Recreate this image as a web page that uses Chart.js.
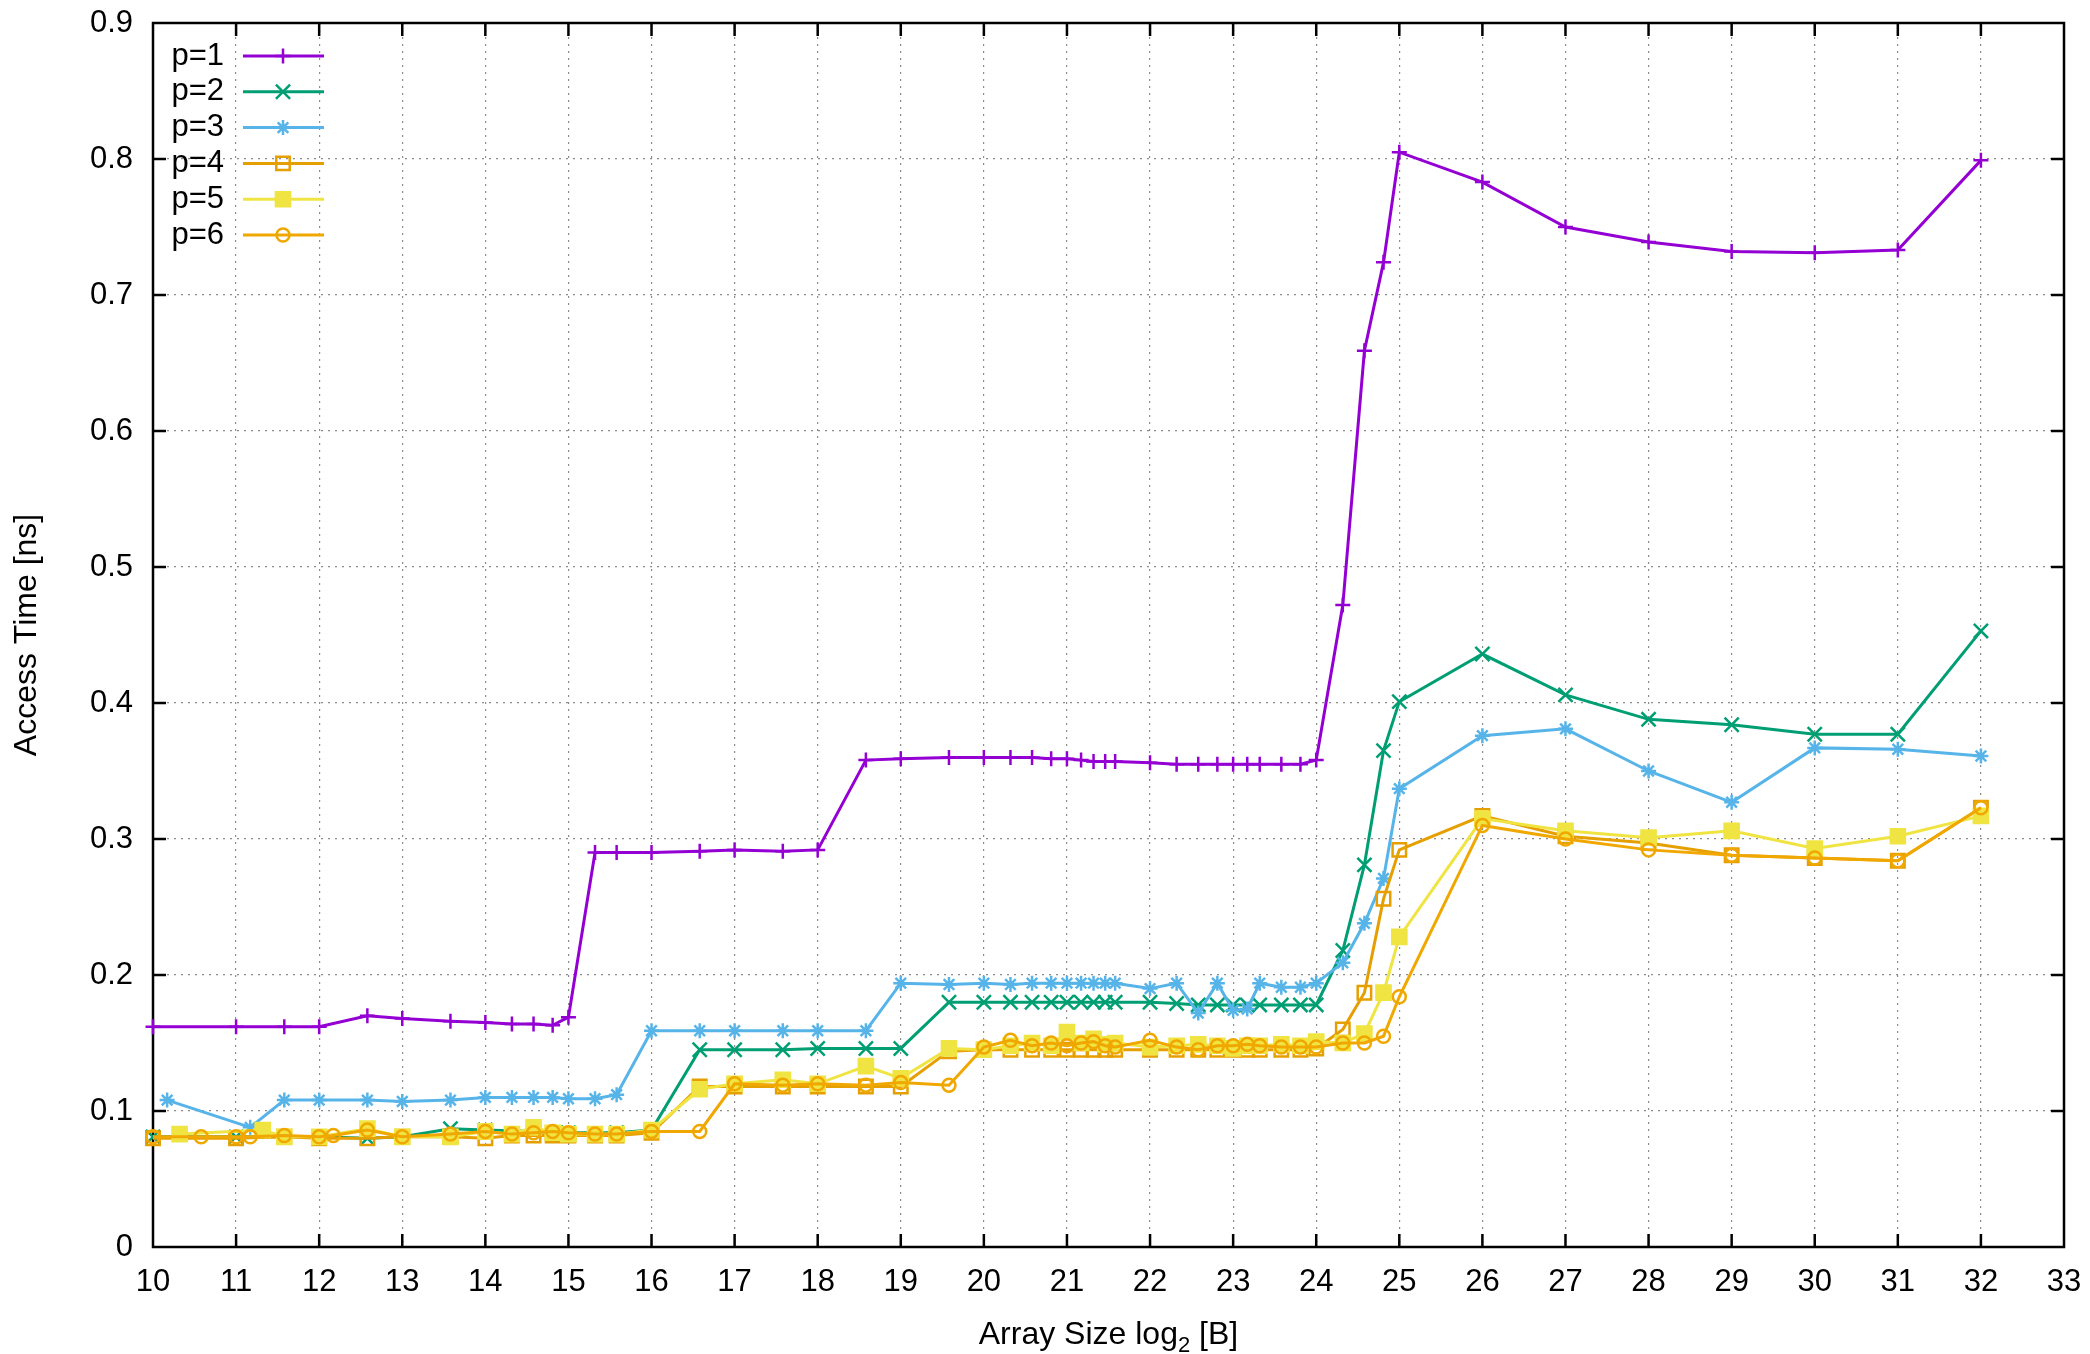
<!DOCTYPE html>
<html>
<head>
<meta charset="utf-8">
<script src="https://cdn.jsdelivr.net/npm/chart.js@4.4.1/dist/chart.umd.min.js"></script>
<style>
	html, body { margin: 0; padding: 0; background: #fff; }
</style>
</head>
<body>
<canvas id="accessChart" width="2090" height="1354"></canvas>
<script>
const xTicks = [10, 11, 12, 13, 14, 15, 16, 17, 18, 19, 20, 21, 22, 23, 24, 25, 26, 27, 28, 29, 30, 31, 32, 33];
const yTicks = [0, 0.1, 0.2, 0.3, 0.4, 0.5, 0.6, 0.7, 0.8, 0.9];
const yTickLabels = ["0", "0.1", "0.2", "0.3", "0.4", "0.5", "0.6", "0.7", "0.8", "0.9"];
const seriesNames = ["p=1", "p=2", "p=3", "p=4", "p=5", "p=6"];

// x = log2 of array size, y = access time in ns
const p1X = [10, 11, 11.58, 12, 12.58, 13, 13.58, 14, 14.32, 14.58, 14.81, 15, 15.32, 15.58, 16, 16.58, 17, 17.58, 18, 18.58, 19, 19.58, 20, 20.32, 20.58, 20.81, 21, 21.17, 21.32, 21.46, 21.58, 22, 22.32, 22.58, 22.81, 23, 23.17, 23.32, 23.58, 23.81, 24, 24.32, 24.58, 24.81, 25, 26, 27, 28, 29, 30, 31, 32];
const p1Y = [0.162, 0.162, 0.162, 0.162, 0.170, 0.168, 0.166, 0.165, 0.164, 0.164, 0.163, 0.169, 0.290, 0.290, 0.290, 0.291, 0.292, 0.291, 0.292, 0.358, 0.359, 0.360, 0.360, 0.360, 0.360, 0.359, 0.359, 0.358, 0.357, 0.357, 0.357, 0.356, 0.355, 0.355, 0.355, 0.355, 0.355, 0.355, 0.355, 0.355, 0.358, 0.472, 0.659, 0.724, 0.805, 0.783, 0.750, 0.739, 0.732, 0.731, 0.733, 0.799];

const p2X = [10, 11, 12, 12.58, 13, 13.58, 14, 14.58, 15, 15.58, 16, 16.58, 17, 17.58, 18, 18.58, 19, 19.58, 20, 20.32, 20.58, 20.81, 21, 21.17, 21.32, 21.46, 21.58, 22, 22.32, 22.58, 22.81, 23, 23.17, 23.32, 23.58, 23.81, 24, 24.32, 24.58, 24.81, 25, 26, 27, 28, 29, 30, 31, 32];
const p2Y = [0.081, 0.081, 0.081, 0.080, 0.081, 0.087, 0.086, 0.085, 0.084, 0.084, 0.086, 0.145, 0.145, 0.145, 0.146, 0.146, 0.146, 0.180, 0.180, 0.180, 0.180, 0.180, 0.180, 0.180, 0.180, 0.180, 0.180, 0.180, 0.179, 0.178, 0.178, 0.178, 0.178, 0.178, 0.178, 0.178, 0.178, 0.218, 0.281, 0.365, 0.401, 0.436, 0.406, 0.388, 0.384, 0.377, 0.377, 0.453];

const p3X = [10.17, 11.17, 11.58, 12, 12.58, 13, 13.58, 14, 14.32, 14.58, 14.81, 15, 15.32, 15.58, 16, 16.58, 17, 17.58, 18, 18.58, 19, 19.58, 20, 20.32, 20.58, 20.81, 21, 21.17, 21.32, 21.46, 21.58, 22, 22.32, 22.58, 22.81, 23, 23.17, 23.32, 23.58, 23.81, 24, 24.32, 24.58, 24.81, 25, 26, 27, 28, 29, 30, 31, 32];
const p3Y = [0.108, 0.088, 0.108, 0.108, 0.108, 0.107, 0.108, 0.110, 0.110, 0.110, 0.110, 0.109, 0.109, 0.112, 0.159, 0.159, 0.159, 0.159, 0.159, 0.159, 0.194, 0.193, 0.194, 0.193, 0.194, 0.194, 0.194, 0.194, 0.194, 0.194, 0.194, 0.190, 0.194, 0.172, 0.194, 0.174, 0.175, 0.194, 0.191, 0.191, 0.194, 0.209, 0.238, 0.271, 0.337, 0.376, 0.381, 0.350, 0.327, 0.367, 0.366, 0.361];

const p4X = [10, 11, 11.58, 12, 12.58, 13, 13.58, 14, 14.32, 14.58, 14.81, 15, 15.32, 15.58, 16, 16.58, 17, 17.58, 18, 18.58, 19, 19.58, 20, 20.32, 20.58, 20.81, 21, 21.17, 21.32, 21.46, 21.58, 22, 22.32, 22.58, 22.81, 23, 23.17, 23.32, 23.58, 23.81, 24, 24.32, 24.58, 24.81, 25, 26, 27, 28, 29, 30, 31, 32];
const p4Y = [0.080, 0.080, 0.081, 0.080, 0.080, 0.081, 0.081, 0.080, 0.082, 0.082, 0.082, 0.082, 0.082, 0.082, 0.084, 0.118, 0.118, 0.118, 0.118, 0.118, 0.118, 0.144, 0.145, 0.145, 0.145, 0.145, 0.145, 0.145, 0.145, 0.145, 0.145, 0.145, 0.145, 0.145, 0.145, 0.145, 0.145, 0.145, 0.145, 0.145, 0.146, 0.160, 0.187, 0.256, 0.292, 0.317, 0.302, 0.297, 0.288, 0.286, 0.284, 0.323];

const p5X = [10.32, 11.32, 11.58, 12, 12.58, 13, 13.58, 14, 14.32, 14.58, 14.81, 15, 15.32, 15.58, 16, 16.58, 17, 17.58, 18, 18.58, 19, 19.58, 20, 20.32, 20.58, 20.81, 21, 21.17, 21.32, 21.46, 21.58, 22, 22.32, 22.58, 22.81, 23, 23.17, 23.32, 23.58, 23.81, 24, 24.32, 24.58, 24.81, 25, 26, 27, 28, 29, 30, 31, 32];
const p5Y = [0.083, 0.086, 0.081, 0.081, 0.087, 0.081, 0.081, 0.085, 0.083, 0.088, 0.084, 0.083, 0.083, 0.083, 0.086, 0.116, 0.120, 0.123, 0.120, 0.133, 0.124, 0.146, 0.145, 0.148, 0.150, 0.148, 0.158, 0.150, 0.153, 0.149, 0.150, 0.147, 0.148, 0.149, 0.148, 0.146, 0.148, 0.148, 0.149, 0.148, 0.151, 0.150, 0.157, 0.187, 0.228, 0.315, 0.306, 0.301, 0.306, 0.293, 0.302, 0.317];

const p6X = [10, 10.58, 11, 11.17, 11.58, 12, 12.17, 12.58, 13, 13.58, 14, 14.32, 14.58, 14.81, 15, 15.32, 15.58, 16, 16.58, 17, 17.58, 18, 18.58, 19, 19.58, 20, 20.32, 20.58, 20.81, 21, 21.17, 21.32, 21.46, 21.58, 22, 22.32, 22.58, 22.81, 23, 23.17, 23.32, 23.58, 23.81, 24, 24.32, 24.58, 24.81, 25, 26, 27, 28, 29, 30, 31, 32];
const p6Y = [0.081, 0.081, 0.081, 0.081, 0.082, 0.081, 0.082, 0.086, 0.081, 0.083, 0.085, 0.083, 0.084, 0.085, 0.084, 0.083, 0.083, 0.085, 0.085, 0.120, 0.119, 0.120, 0.119, 0.121, 0.119, 0.147, 0.152, 0.148, 0.150, 0.148, 0.150, 0.151, 0.148, 0.147, 0.152, 0.147, 0.145, 0.148, 0.148, 0.149, 0.148, 0.147, 0.147, 0.147, 0.150, 0.150, 0.155, 0.184, 0.310, 0.300, 0.292, 0.288, 0.286, 0.284, 0.323];

const seriesX = [p1X, p2X, p3X, p4X, p5X, p6X];
const seriesY = [p1Y, p2Y, p3Y, p4Y, p5Y, p6Y];

const colors = ["#9400d3", "#009e73", "#56b4e9", "#e69f00", "#f0e442", "#f0a800"];
const markers = [
	{ style: "cross", radius: 7.5, filled: false },
	{ style: "crossRot", radius: 10, filled: false },
	{ style: "star", radius: 7.5, filled: false },
	{ style: "rect", radius: 9.5, filled: false },
	{ style: "rect", radius: 10, filled: true },
	{ style: "circle", radius: 6.5, filled: false },
];

const FONT = "'Liberation Sans', Arial, sans-serif";
Chart.defaults.font.family = FONT;
Chart.defaults.font.size = 31;
Chart.defaults.color = "#000";

const datasets = seriesNames.map((name, i) => ({
	label: name,
	data: seriesX[i].map((x, j) => ({ x: x, y: seriesY[i][j] })),
	borderColor: colors[i],
	backgroundColor: colors[i],
	borderWidth: 3,
	tension: 0,
	pointStyle: markers[i].style,
	pointRadius: markers[i].radius,
	pointBorderWidth: 2.5,
	pointBorderColor: colors[i],
	pointBackgroundColor: markers[i].filled ? colors[i] : "rgba(0,0,0,0)",
	clip: false,
	order: 5 - i,
}));

// no extra room for edge labels, the layout padding sets the plot box
function noEdgePadding(s) {
	s.paddingTop = 0;
	s.paddingBottom = 0;
	s.paddingLeft = 0;
	s.paddingRight = 0;
}

// gnuplot-like box with inward ticks on all four sides
const frame = {
	id: "frame",
	beforeDatasetsDraw(chart) {
		const { ctx, chartArea: a, scales } = chart;
		ctx.save();
		ctx.strokeStyle = "#000";
		ctx.lineWidth = 2.5;
		const len = 13;
		ctx.beginPath();
		xTicks.slice(1, -1).forEach(v => {
			const px = scales.x.getPixelForValue(v);
			ctx.moveTo(px, a.bottom); ctx.lineTo(px, a.bottom - len);
			ctx.moveTo(px, a.top); ctx.lineTo(px, a.top + len);
		});
		yTicks.slice(1, -1).forEach(v => {
			const py = scales.y.getPixelForValue(v);
			ctx.moveTo(a.left, py); ctx.lineTo(a.left + len, py);
			ctx.moveTo(a.right, py); ctx.lineTo(a.right - len, py);
		});
		ctx.stroke();
		ctx.strokeRect(a.left, a.top, a.right - a.left, a.bottom - a.top);
		ctx.restore();
	},
};

// x axis title with a real subscript in "log2"
const xTitle = {
	id: "xTitle",
	afterDraw(chart) {
		const { ctx, chartArea: a } = chart;
		const parts = [["Array Size log", 32, 0], ["2", 22, 8], [" [B]", 32, 0]];
		ctx.save();
		ctx.fillStyle = "#000";
		ctx.textAlign = "left";
		ctx.textBaseline = "alphabetic";
		let total = 0;
		parts.forEach(p => { ctx.font = p[1] + "px " + FONT; total += ctx.measureText(p[0]).width; });
		let x = (a.left + a.right) / 2 - total / 2;
		const base = 1344;
		parts.forEach(p => {
			ctx.font = p[1] + "px " + FONT;
			ctx.fillText(p[0], x, base + p[2]);
			x += ctx.measureText(p[0]).width;
		});
		ctx.restore();
	},
};

// key in the top left corner: label, line sample, marker
const keyBox = {
	id: "keyBox",
	afterDraw(chart) {
		const { ctx, chartArea: a } = chart;
		ctx.save();
		ctx.font = "31px " + FONT;
		ctx.textAlign = "right";
		ctx.textBaseline = "middle";
		seriesNames.forEach((name, i) => {
			const y = a.top + 33 + i * 35.8;
			ctx.fillStyle = "#000";
			ctx.fillText(name, a.left + 71, y);
			ctx.strokeStyle = colors[i];
			ctx.lineWidth = 3;
			ctx.beginPath();
			ctx.moveTo(a.left + 90, y);
			ctx.lineTo(a.left + 171, y);
			ctx.stroke();
			ctx.lineWidth = 2.5;
			ctx.fillStyle = markers[i].filled ? colors[i] : "rgba(0,0,0,0)";
			if (Chart.helpers && Chart.helpers.drawPoint) {
				Chart.helpers.drawPoint(ctx, {
					pointStyle: markers[i].style,
					radius: markers[i].radius,
					borderWidth: 2.5,
					rotation: 0,
				}, a.left + 130, y);
			}
		});
		ctx.restore();
	},
};

new Chart(document.getElementById("accessChart"), {
	type: "line",
	data: { datasets: datasets },
	plugins: [frame, xTitle, keyBox],
	options: {
		responsive: false,
		animation: false,
		layout: { padding: { top: 23, right: 26, left: 0, bottom: 0 } },
		plugins: { legend: { display: false }, tooltip: { enabled: false } },
		scales: {
			x: {
				type: "linear",
				min: 10,
				max: 33,
				afterBuildTicks: s => { s.ticks = xTicks.map(v => ({ value: v })); },
				afterFit: s => { s.height = 107; noEdgePadding(s); },
				ticks: { padding: 17, autoSkip: false, maxRotation: 0, callback: v => String(v) },
				grid: { color: "#8c8c8c", lineWidth: 1.2, drawTicks: false },
				border: { display: false, dash: [2, 5] },
				title: { display: false },
			},
			y: {
				type: "linear",
				min: 0,
				max: 0.9,
				afterBuildTicks: s => { s.ticks = yTicks.map(v => ({ value: v })); },
				afterFit: s => { s.width = 153; noEdgePadding(s); },
				ticks: { padding: 20, autoSkip: false, callback: (v, i) => yTickLabels[i] },
				grid: { color: "#8c8c8c", lineWidth: 1.2, drawTicks: false },
				border: { display: false, dash: [2, 5] },
				title: { display: true, text: "Access Time [ns]", font: { size: 32 }, padding: { top: 8, bottom: 0 } },
			},
		},
	},
});
</script>
</body>
</html>
